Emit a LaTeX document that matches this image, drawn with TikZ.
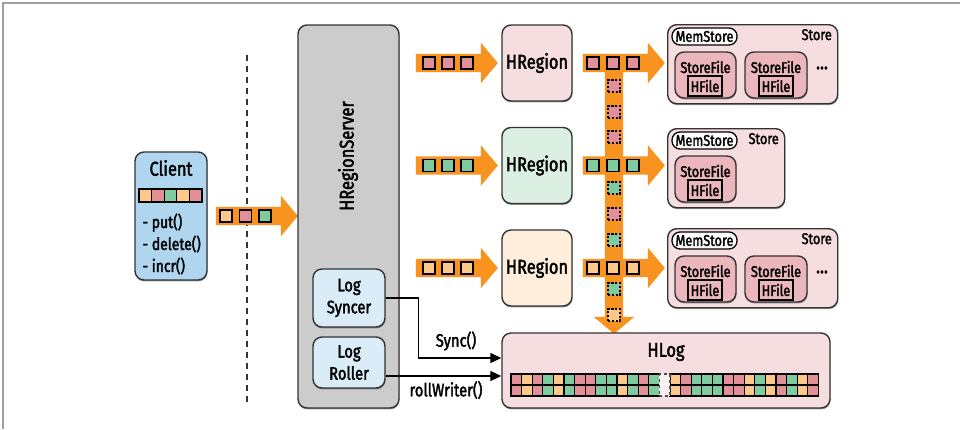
\documentclass[tikz,border=0pt]{standalone}
\usepackage{fontspec}
\setmainfont{Fira Sans}[FakeStretch=0.82, FakeBold=2]
\usetikzlibrary{shapes.arrows,arrows.meta,positioning,calc,shadows}
\definecolor{flowor}{HTML}{F7931E}
\definecolor{cellor}{HTML}{FDC98A}
\definecolor{cellpk}{HTML}{E38F98}
\definecolor{cellgn}{HTML}{7FCB9F}
\definecolor{clientbl}{HTML}{B0D6EF}
\definecolor{logbl}{HTML}{D9ECF7}
\definecolor{servergr}{HTML}{CCCCCC}
\definecolor{regionpk}{HTML}{F6DDE0}
\definecolor{regiongn}{HTML}{DCEFE3}
\definecolor{regionor}{HTML}{FEEEDB}
\definecolor{filepk}{HTML}{EBB6BC}
\definecolor{edgegr}{HTML}{333333}

\begin{document}
\begin{tikzpicture}[x=1pt, y=-1pt,
  every node/.style={font=\fontsize{19}{21}\selectfont},
  bigtext/.style={font=\fontsize{20}{22}\selectfont},
  smalltext/.style={font=\fontsize{15.5}{17}\selectfont},
  box/.style={draw=edgegr, line width=1.4pt, rounded corners=9pt, inner sep=0pt,
    drop shadow={shadow xshift=0.4pt, shadow yshift=-1.4pt, fill=black!70, opacity=0.6}},
  sq/.style={draw=black, line width=1.3pt, minimum size=12pt, inner sep=0pt},
  dsq/.style={sq, dashed, dash pattern=on 2.2pt off 1.6pt, minimum size=12pt},
  cell/.style={draw=black, line width=1.1pt, minimum width=10.6pt, minimum height=11pt, inner sep=0pt},
  flow/.style={single arrow, fill=flowor, inner xsep=0pt, inner ysep=9pt,
    text height=0pt, text depth=0pt, single arrow head extend=11pt,
    single arrow tip angle=100, minimum height=82pt},
  sig/.style={-{Triangle[length=11pt,width=10pt]}, line width=1.3pt, black}]
\useasboundingbox (0,0) rectangle (960,429);
\draw[gray!75, line width=1.5pt] (3,429) -- (3,3) -- (960,3);
\draw[edgegr, line width=1.8pt, dash pattern=on 6pt off 5pt] (247,55) -- (247,405);

% client side
\node[box, fill=clientbl, minimum width=72pt, minimum height=128pt] (client) at (171,216) {};
\node[bigtext] (clientname) at (171,168) {Client};
\foreach \i/\c in {0/cellor, 1/cellpk, 2/cellgn, 3/cellor, 4/cellpk}
  \node[cell, fill=\c, minimum width=12.6pt, minimum height=13pt] (strip\i) at (145.3+12.6*\i,195.5) {};
\node[align=left, anchor=west, font=\fontsize{17}{22}\selectfont] (clientops) at (139,244)
  {- put()\\- delete()\\- incr()};
\node[flow, minimum height=82pt] (reqflow) at (253,216) {};
\foreach \x/\c in {226/cellor, 245.5/cellpk, 265/cellgn}
  \node[sq, fill=\c] at (\x,216) {};

% region server
\node[box, fill=servergr, minimum width=101pt, minimum height=383pt] (server) at (348.5,216.5) {};
\node[bigtext, rotate=90] (servername) at (348,156) {HRegionServer};
\node[box, fill=logbl, minimum width=72pt, minimum height=58pt, align=center,
  font=\fontsize{18}{22}\selectfont] (syncer) at (349,298) {Log\\Syncer};
\node[box, fill=logbl, minimum width=72pt, minimum height=51pt, align=center,
  font=\fontsize{18}{22}\selectfont] (roller) at (349,362.5) {Log\\Roller};

% regions
\foreach \r/\y/\f/\c in {1/63/regionpk/cellpk, 2/165.5/regiongn/cellgn, 3/268/regionor/cellor} {
  \node[box, fill=\f, minimum width=70pt, minimum height=76pt, bigtext] (region\r) at (537,\y) {HRegion};
  \node[flow] (inflow\r) at (453,\y) {};
  \node[flow] (outflow\r) at (620,\y) {};
}
\node[flow, rotate=-90, minimum height=277pt] (logflow) at (614,191.5) {};
\foreach \r/\y/\c in {1/63/cellpk, 2/165.5/cellgn, 3/268/cellor}
  \foreach \x in {429,448,467,593,613,633}
    \node[sq, fill=\c] at (\x,\y) {};
\foreach \y/\c in {86/cellpk, 112/cellpk, 137/cellpk, 188/cellgn, 214/cellpk, 240/cellgn, 289/cellgn, 315/cellor}
  \node[dsq, fill=\c] at (614,\y) {};

% stores
\foreach \s/\t/\w in {1/24/170, 2/128/117, 3/228/170} {
  \node[box, fill=regionpk, anchor=north west, minimum width=\w pt, minimum height=79pt] (store\s) at (667,\t) {};
  \node[smalltext, anchor=north east, inner sep=0pt] (storename\s) at (667+\w-5,\t+5) {Store};
  \node[draw=black, line width=1.3pt, fill=white, rounded corners=8pt, smalltext,
    minimum width=65pt, minimum height=17pt, inner sep=0pt] (mem\s) at (704.5,\t+12.5) {MemStore};
  \node[box, fill=filepk, minimum width=61pt, minimum height=46pt] (sfa\s) at (705.5,\t+51) {};
  \node[smalltext] at (705.5,\t+43) {StoreFile};
  \node[draw=black, line width=1.4pt, fill=filepk, smalltext, minimum width=34pt,
    minimum height=20pt, inner sep=0pt] (hfa\s) at (705,\t+62) {HFile};
}
\foreach \s/\t in {1/24, 3/228} {
  \node[box, fill=filepk, minimum width=62pt, minimum height=46pt] (sfb\s) at (776,\t+51) {};
  \node[smalltext] at (776,\t+43) {StoreFile};
  \node[draw=black, line width=1.4pt, fill=filepk, smalltext, minimum width=34pt,
    minimum height=20pt, inner sep=0pt] (hfb\s) at (776,\t+62) {HFile};
  \node[bigtext] (more\s) at (822,\t+44) {...};
}

% write-ahead log
\node[box, fill=regionpk, minimum width=328pt, minimum height=75pt] (hlog) at (666,370.5) {};
\node[bigtext] (hlogname) at (666,352) {HLog};
\foreach \i/\c in {0/cellpk, 1/cellor, 2/cellpk, 3/cellgn, 4/cellor, 5/cellgn, 6/cellpk,
  7/cellpk, 8/cellgn, 9/cellgn, 10/cellor, 11/cellgn, 12/cellpk, 13/cellgn,
  15/cellor, 16/cellpk, 17/cellgn, 18/cellgn, 19/cellgn, 20/cellpk, 21/cellpk,
  22/cellor, 23/cellgn, 24/cellor, 25/cellpk, 26/cellgn, 27/cellor, 28/cellpk} {
  \node[cell, fill=\c] at (516.3+10.6*\i,379.5) {};
  \node[cell, fill=\c] at (516.3+10.6*\i,390.5) {};
}
\node[cell, fill=white!55!regionpk, draw=black!70, dashed, minimum height=22pt] (logslot) at (516.3+10.6*14,385) {};

% log calls
\coordinate (syncin) at ([yshift=12.5pt]hlog.west);
\coordinate (rollin) at ([yshift=-5.5pt]hlog.west);
\draw[sig] (syncer.east) -- ++(33,0) |- (syncin);
\draw[sig] (roller.east |- rollin) -- (rollin);
\node[font=\fontsize{18}{20}\selectfont] (synclabel) at (456,341) {Sync()};
\node[font=\fontsize{18}{20}\selectfont] (rolllabel) at (446,390) {rollWriter()};
\end{tikzpicture}
\end{document}
